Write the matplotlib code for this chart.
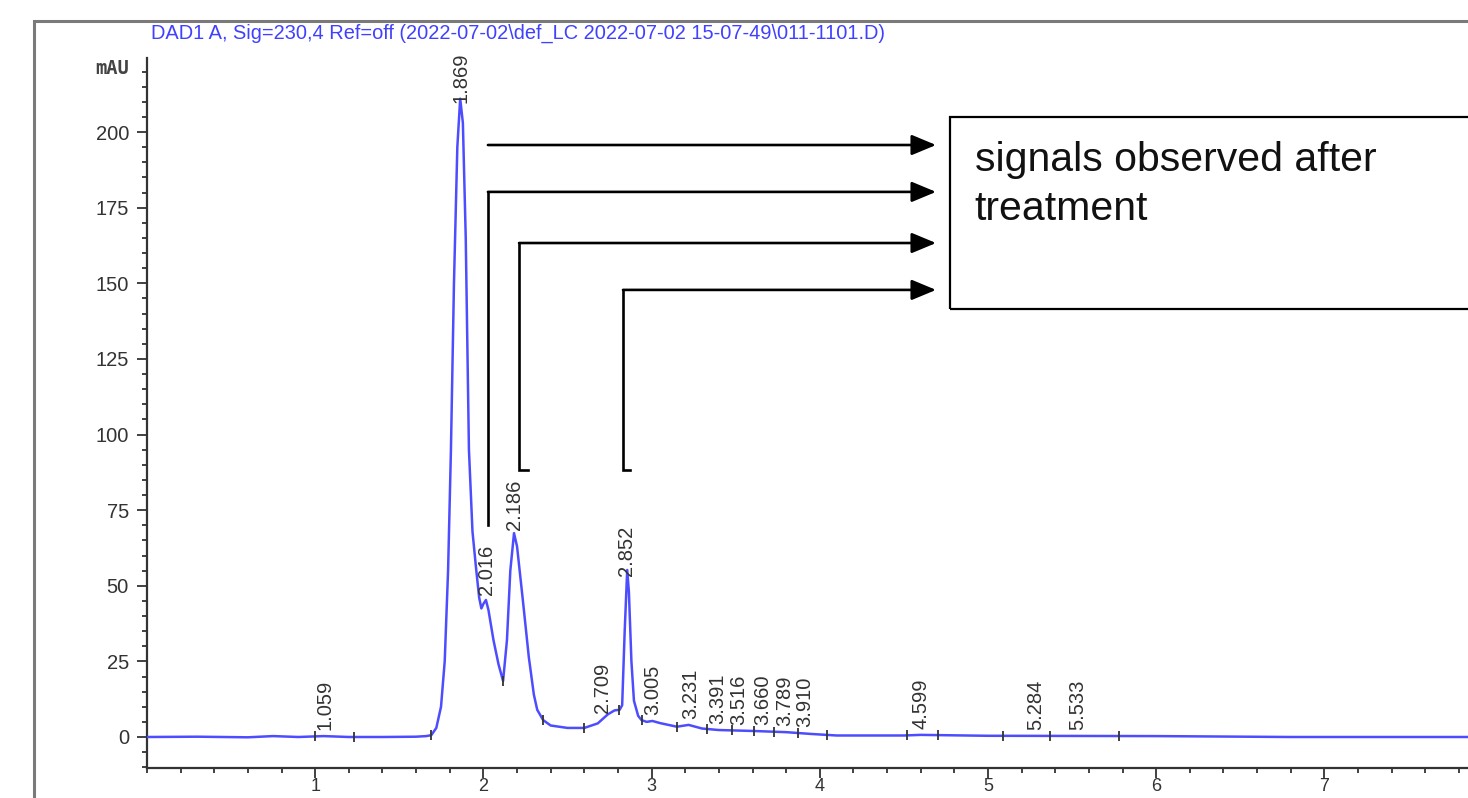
"""HPLC chromatogram (DAD1 A, 230 nm) with annotated post-treatment signals."""

import matplotlib

matplotlib.use("Agg")
import matplotlib.pyplot as plt
import numpy as np
from matplotlib.patches import Rectangle
from matplotlib.ticker import FixedLocator, MultipleLocator

# trace (time in min, signal in mAU)
time_min = [
    0.0, 0.3, 0.6, 0.75, 0.9, 1.05, 1.2, 1.4, 1.6, 1.66, 1.69, 1.72, 1.748,
    1.77, 1.79, 1.807, 1.825, 1.845, 1.862, 1.878, 1.895, 1.914, 1.935, 1.956,
    1.975, 1.988, 2.0, 2.015, 2.03, 2.06, 2.09, 2.117, 2.14, 2.16, 2.182, 2.20,
    2.235, 2.27, 2.30, 2.32, 2.355, 2.40, 2.50, 2.60, 2.68, 2.74, 2.78, 2.81,
    2.825, 2.84, 2.855, 2.865, 2.88, 2.895, 2.92, 2.94, 2.97, 3.005, 3.05,
    3.10, 3.15, 3.22, 3.30, 3.40, 3.60, 3.80, 3.95, 4.10, 4.50, 4.60, 5.0,
    6.0, 6.8, 7.9,
]
signal_mau = [
    0.0, 0.1, -0.1, 0.3, 0.0, 0.3, 0.0, 0.0, 0.1, 0.3, 0.6, 3.0, 10.0,
    25.0, 55.0, 95.0, 150.0, 195.0, 211.0, 203.0, 165.0, 95.0, 68.0, 56.0,
    46.0, 42.5, 44.0, 45.3, 42.0, 32.0, 24.0, 18.5, 32.0, 55.0, 67.4, 63.0,
    45.0, 26.4, 14.0, 9.0, 5.6, 3.8, 3.0, 3.0, 4.5, 7.5, 8.8, 9.0,
    10.5, 35.0, 55.2, 48.0, 25.0, 12.0, 7.0, 5.6, 5.0, 5.3, 4.6,
    4.0, 3.4, 4.0, 2.8, 2.3, 2.0, 1.6, 1.0, 0.5, 0.5, 0.7, 0.4,
    0.3, 0.0, 0.0,
]

# retention times printed above the peaks
peak_rt = [1.059, 1.869, 2.016, 2.186, 2.709, 2.852, 3.005, 3.231, 3.391,
           3.516, 3.660, 3.789, 3.910, 4.599, 5.284, 5.533]

# integration event marks on the trace
event_rt = [1.0, 1.23, 1.69, 2.117, 2.355, 2.60, 2.805, 2.94, 3.15, 3.33,
            3.48, 3.61, 3.73, 3.87, 4.04, 4.52, 4.70, 5.09, 5.37, 5.78]

title = "DAD1 A, Sig=230,4 Ref=off (2022-07-02\\def_LC 2022-07-02 15-07-49\\011-1101.D)"
note = "signals observed after\ntreatment"

plt.rcParams["font.family"] = ["Liberation Sans", "DejaVu Sans"]

W, H = 1468, 798
fig = plt.figure(figsize=(W / 100, H / 100), dpi=100)
ax = fig.add_axes([147 / W, 1 - 768 / H, (W - 147) / W, (768 - 58) / H])

ax.plot(time_min, signal_mau, color="#4d4dff", lw=1.8, zorder=3)

ev_y = np.interp(event_rt, time_min, signal_mau)
ax.plot(event_rt, ev_y, ls="none", marker="|", ms=7, mew=1.3, color="#333333", zorder=4)

pk_y = np.interp(peak_rt, time_min, signal_mau)
for rt, y in zip(peak_rt, pk_y):
    ax.text(rt, y + 2.0, f"{rt:.3f}", rotation=90, ha="center", va="bottom",
            fontsize=14.5, color="#333333", zorder=5)

# arrows pointing to the note box
arrow = dict(arrowstyle="-|>,head_length=0.6,head_width=0.25", color="black",
             lw=1.9, mutation_scale=25, shrinkA=0, shrinkB=0)
tip = 4.691
ax.annotate("", xy=(tip, 195.7), xytext=(2.027, 195.7), arrowprops=arrow)
paths = [
    ([2.027, 2.027], [70.1, 180.2]),
    ([2.265, 2.212, 2.212], [88.3, 88.3, 163.3]),
    ([2.872, 2.830, 2.830], [88.3, 88.3, 147.8]),
]
for xs, ys in paths:
    ax.plot(xs, ys, color="black", lw=1.9, solid_joinstyle="miter", zorder=4)
    ax.annotate("", xy=(tip, ys[-1]), xytext=(xs[-1], ys[-1]), arrowprops=arrow)

ax.add_patch(Rectangle((4.774, 141.5), 5, 63.5, fill=False, edgecolor="black", lw=1.6, zorder=4))
ax.text(4.92, 197.0, note, ha="left", va="top", fontsize=29.5, linespacing=1.36, color="#111111")

ax.set_xlim(0, (W - 147) / 168.2)
ax.set_ylim((737 - 768) / 3.025, (737 - 58) / 3.025)

for s in ("top", "right"):
    ax.spines[s].set_visible(False)
for s in ("left", "bottom"):
    ax.spines[s].set_linewidth(1.6)
    ax.spines[s].set_color("#333333")

ax.xaxis.set_major_locator(FixedLocator([1, 2, 3, 4, 5, 6, 7]))
ax.xaxis.set_minor_locator(MultipleLocator(0.2))
ax.yaxis.set_major_locator(FixedLocator([0, 25, 50, 75, 100, 125, 150, 175, 200]))
ax.yaxis.set_minor_locator(MultipleLocator(5))
ax.tick_params(which="major", length=7, width=1.3, color="#333333",
               labelsize=14.5, labelcolor="#333333", pad=6)
ax.tick_params(which="minor", length=3.5, width=1.3, color="#333333")
ax.tick_params(axis="x", which="major", pad=0.5, labelsize=13)

fig.text(129 / W, 1 - 68 / H, "mAU", ha="right", va="center", fontsize=13.5,
         family="DejaVu Sans Mono", weight="bold", color="#444444")
fig.text(151 / W, 1 - 33 / H, title, ha="left", va="center", fontsize=14.4,
         color="#4040ff")

fig.patches.append(Rectangle((33.5 / W, -0.1), 1.2, 1.1 - 21.5 / H, transform=fig.transFigure,
                             fill=False, edgecolor="#7a7a7a", lw=2.2))

fig.savefig("out.png", dpi=100)
